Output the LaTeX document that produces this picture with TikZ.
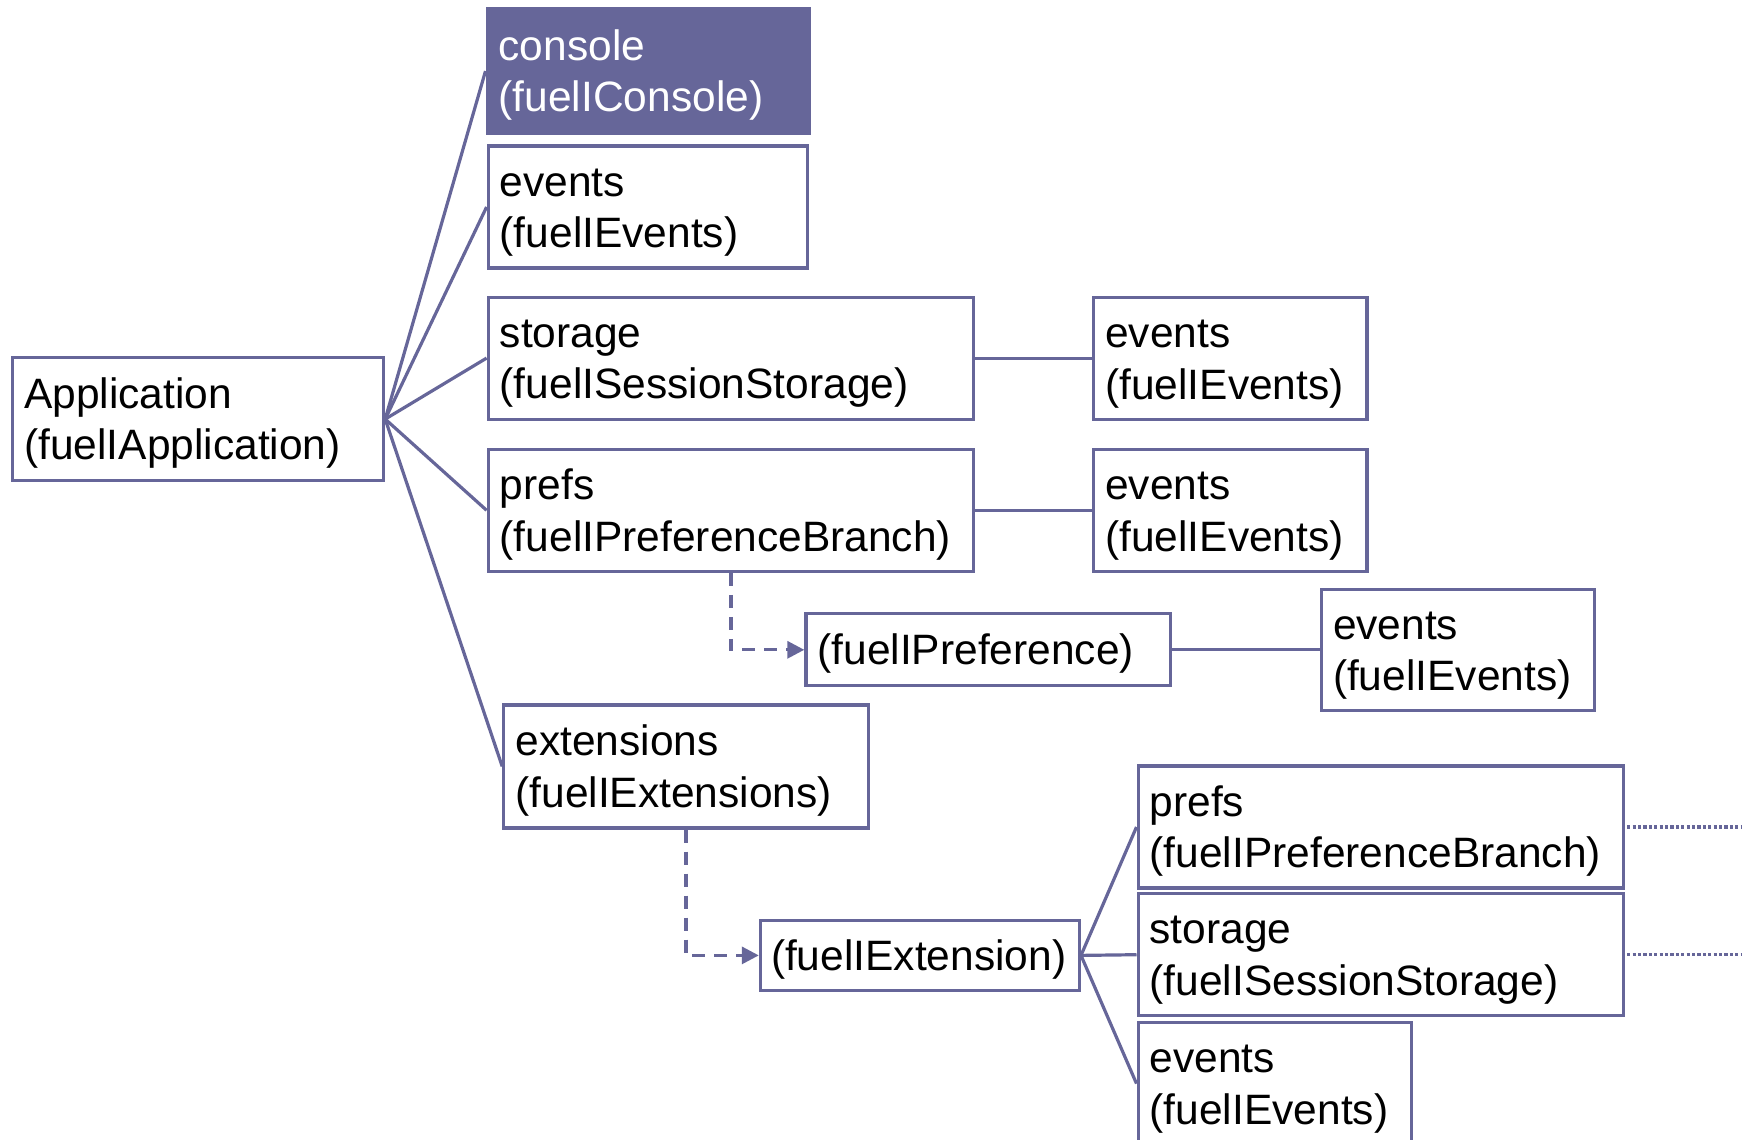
\documentclass[tikz,border=0pt]{standalone}
\usepackage{fontspec}
\setmainfont{Liberation Sans}
\usetikzlibrary{arrows.meta}
\definecolor{fuelc}{RGB}{102,102,153}
\begin{document}
\begin{tikzpicture}[x=0.5pt,y=-0.5pt,
  box/.style={draw=fuelc, line width=1.6pt, anchor=north west, inner xsep=5.8pt, inner ysep=0pt,
    align=left, font=\fontsize{21.25}{25.8}\selectfont, fill=white,
    execute at begin node={\rule{0pt}{19.5pt}}},
  conn/.style={draw=fuelc, line width=1.6pt},
  dashconn/.style={conn, dash pattern=on 6.5pt off 4.5pt, -{Triangle[length=8.5pt,width=8.5pt]}},
  dotconn/.style={draw=fuelc, line width=1.6pt, dash pattern=on 1.6pt off 1.1pt}]
\useasboundingbox (0,0) rectangle (1742,1140);
\clip (0,0) rectangle (1742,1140);
\coordinate (edge) at (1742,0);

\node[box, text width=173.9pt, minimum height=61.5pt] (app) at (11,356) {Application\\(fuelIApplication)};
\node[box, fill=fuelc, text=white, text width=149.4pt, minimum height=62.75pt] (console) at (485.5,6.7) {console\\(fuelIConsole)};
\node[box, text width=147.9pt, minimum height=61pt] (ev1) at (486.6,144.4) {events\\(fuelIEvents)};
\node[box, text width=231.15pt, minimum height=61pt] (stor) at (486.6,295.5) {storage\\(fuelISessionStorage)};
\node[box, text width=125.1pt, minimum height=61pt] (ev2) at (1092,295.5) {events\\(fuelIEvents)};
\node[box, text width=231.15pt, minimum height=61pt] (prefs) at (486.6,447.7) {prefs\\(fuelIPreferenceBranch)};
\node[box, text width=125.1pt, minimum height=61pt] (ev3) at (1092,447.7) {events\\(fuelIEvents)};
\node[box, text width=170.6pt, minimum height=36pt] (pref) at (804.3,612.2) {(fuelIPreference)};
\node[box, text width=125.1pt, minimum height=60.5pt] (ev4) at (1319.8,587.7) {events\\(fuelIEvents)};
\node[box, text width=170.6pt, minimum height=61.5pt] (exts) at (502.2,703.3) {extensions\\(fuelIExtensions)};
\node[box, inner xsep=5.3pt, text width=148.9pt, minimum height=35pt] (ext) at (758.8,918.8) {(fuelIExtension)};
\node[box, text width=231.15pt, minimum height=61pt] (prefs2) at (1136.5,764.4) {prefs\\(fuelIPreferenceBranch)};
\node[box, text width=231.15pt, minimum height=61pt] (stor2) at (1136.5,892.1) {storage\\(fuelISessionStorage)};
\node[box, text width=125.1pt, minimum height=61pt] (ev5) at (1136.5,1021) {events\\(fuelIEvents)};

\foreach \t in {console,ev1,stor,prefs,exts}
  \draw[conn] (app.east) -- (\t.west);
\draw[conn] (stor.east) -- (ev2.west);
\draw[conn] (prefs.east) -- (ev3.west);
\draw[conn] (pref.east) -- (ev4.west);
\foreach \t in {prefs2,stor2,ev5}
  \draw[conn] (ext.east) -- (\t.west);
\draw[dashconn] (prefs.south) |- (pref.west);
\draw[dashconn] (exts.south) |- (ext.west);
\draw[dotconn] ([xshift=1pt]prefs2.east) -- (prefs2.east -| edge);
\draw[dotconn] ([xshift=1pt]stor2.east) -- (stor2.east -| edge);
\end{tikzpicture}
\end{document}
